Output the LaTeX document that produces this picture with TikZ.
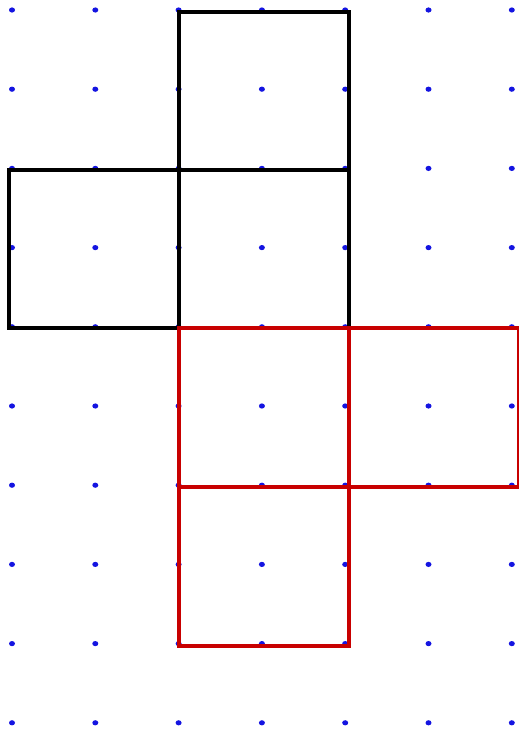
\documentclass[tikz,border=0pt]{standalone}
\definecolor{dotblue}{RGB}{20,20,225}
\definecolor{redline}{RGB}{200,0,0}
\tikzset{
  griddot/.style={fill=dotblue},
  blackbox/.style={draw=black,line width=4pt},
  redbox/.style={draw=redline,line width=4pt}
}
\begin{document}
\begin{tikzpicture}[x=1pt,y=-1pt]
\useasboundingbox (0,0) rectangle (519,731);
\fill[white] (0,0) rectangle (519,731);
\clip (0,0) rectangle (519,731);
\foreach \i in {0,...,6}{
  \foreach \j in {0,...,9}{
    \fill[griddot] ({12+83.3*\i},{10+79.2*\j}) ellipse (3 and 2.6);
  }
}
\draw[blackbox] (179,12) rectangle (349,170);
\draw[blackbox] (9,170) rectangle (179,328);
\draw[blackbox] (179,170) rectangle (349,328);
\draw[redbox] (179,328) rectangle (349,487);
\draw[redbox] (349,328) rectangle (519,487);
\draw[redbox] (179,487) rectangle (349,646);
\end{tikzpicture}
\end{document}
